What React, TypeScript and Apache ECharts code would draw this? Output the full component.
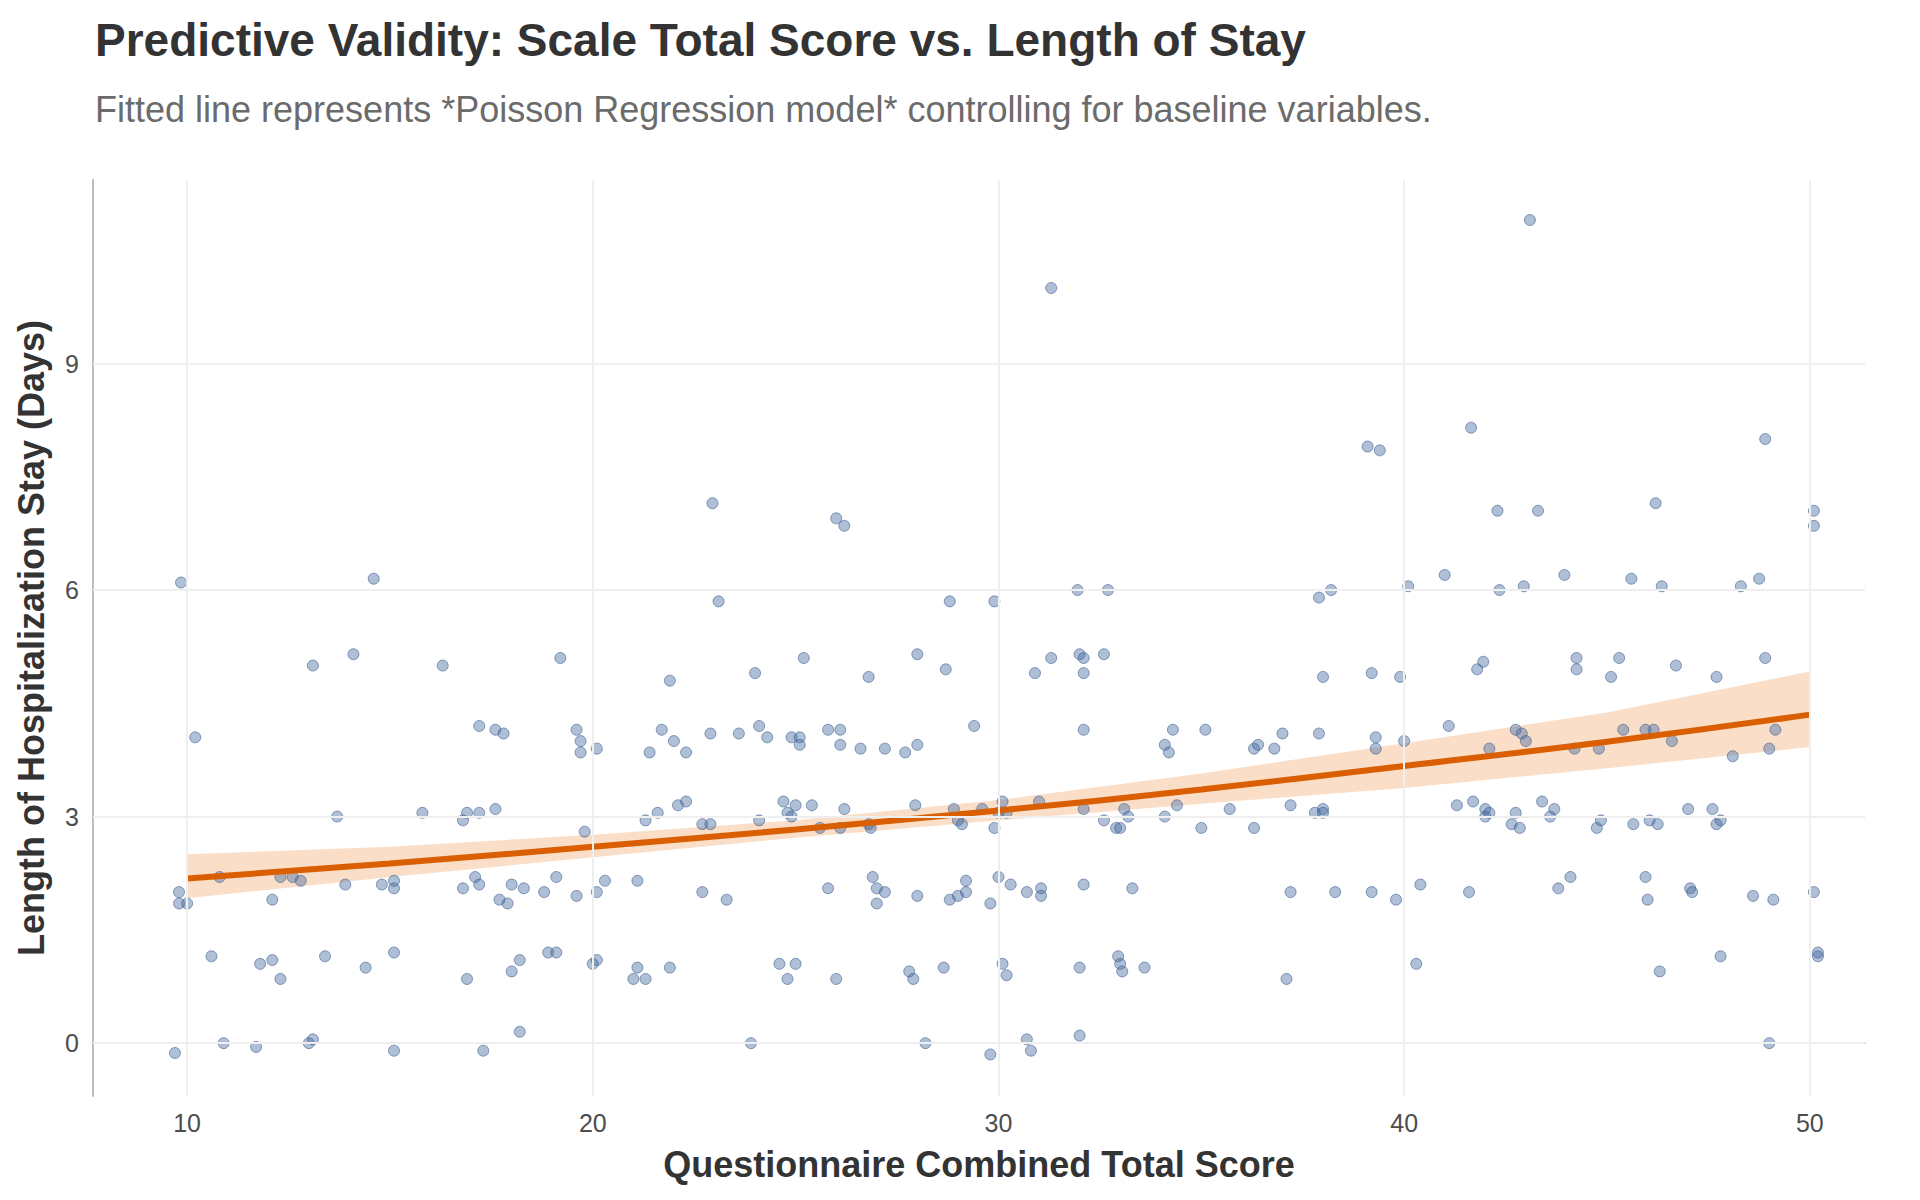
import * as echarts from 'echarts';
import { useEffect, useRef } from 'react';

// observations: [total score, length of stay]
const points: number[][] = [
    [9.7, -0.13], [9.8, 2.0], [9.8, 1.85], [10, 1.85], [9.85, 6.1], [10.2, 4.05], [10.6, 1.15], [10.8, 2.2],
    [10.9, 0], [11.7, -0.05], [11.8, 1.05], [12.1, 1.9], [12.1, 1.1], [12.3, 2.2], [12.3, 0.85], [12.6, 2.2],
    [12.8, 2.15], [13.0, 0], [13.1, 0.05], [13.1, 5.0], [13.4, 1.15], [13.7, 3.0], [13.9, 2.1], [14.1, 5.15],
    [14.4, 1.0], [14.6, 6.15], [14.8, 2.1], [15.1, 2.05], [15.1, 2.15], [15.1, -0.1], [15.1, 1.2], [15.8, 3.05],
    [16.3, 5.0], [16.8, 2.95], [16.9, 3.05], [16.8, 2.05], [16.9, 0.85], [17.1, 2.2], [17.2, 2.1], [17.2, 4.2],
    [17.2, 3.05], [17.3, -0.1], [17.6, 4.15], [17.8, 4.1], [17.6, 3.1], [17.7, 1.9], [17.9, 1.85], [18.0, 2.1],
    [18.0, 0.95], [18.2, 1.1], [18.2, 0.15], [18.3, 2.05], [18.8, 2.0], [18.9, 1.2], [19.1, 1.2], [19.1, 2.2],
    [19.2, 5.1], [19.6, 4.15], [19.7, 4.0], [19.7, 3.85], [19.6, 1.95], [19.8, 2.8], [20.0, 1.05], [20.1, 1.1],
    [20.1, 3.9], [20.1, 2.0], [20.3, 2.15], [21.0, 0.85], [21.1, 1.0], [21.1, 2.15], [21.3, 0.85], [21.3, 2.95],
    [21.4, 3.85], [21.6, 3.05], [21.7, 4.15], [21.9, 4.8], [21.9, 1.0], [22.0, 4.0], [22.1, 3.15], [22.3, 3.2],
    [22.3, 3.85], [22.7, 2.9], [22.9, 2.9], [22.7, 2.0], [22.9, 4.1], [22.95, 7.15], [23.1, 5.85], [23.3, 1.9],
    [23.6, 4.1], [23.9, 0], [24.0, 4.9], [24.1, 4.2], [24.1, 2.95], [24.3, 4.05], [24.6, 1.05], [24.7, 3.2],
    [24.8, 3.05], [24.9, 3.0], [24.8, 0.85], [24.9, 4.05], [25.1, 4.05], [25.1, 3.95], [25.0, 3.15], [25.0, 1.05],
    [25.2, 5.1], [25.4, 3.15], [25.6, 2.85], [25.8, 4.15], [26.1, 4.15], [25.8, 2.05], [26.0, 0.85], [26.0, 6.95],
    [26.2, 6.85], [26.1, 3.95], [26.1, 2.85], [26.2, 3.1], [26.6, 3.9], [26.8, 4.85], [26.8, 2.9], [26.85, 2.85],
    [26.9, 2.2], [27.0, 2.05], [27.2, 2.0], [27.0, 1.85], [27.2, 3.9], [27.7, 3.85], [27.8, 0.95], [27.9, 0.85],
    [28.0, 5.15], [28.0, 3.95], [27.95, 3.15], [28.0, 1.95], [28.2, 0], [28.65, 1.0], [28.7, 4.95], [28.8, 5.85],
    [28.8, 1.9], [29.0, 1.95], [28.9, 3.1], [29.0, 2.95], [29.1, 2.9], [29.2, 2.15], [29.2, 2.0], [29.4, 4.2],
    [29.6, 3.1], [29.8, -0.15], [29.8, 1.85], [29.9, 5.85], [29.9, 2.85], [30.0, 3.05], [30.0, 2.2], [30.1, 1.05],
    [30.2, 0.9], [30.1, 3.2], [30.2, 3.05], [30.3, 2.1], [30.7, 2.0], [30.7, 0.05], [30.8, -0.1], [30.9, 4.9],
    [31.0, 3.2], [31.05, 2.05], [31.05, 1.95], [31.3, 10.0], [31.3, 5.1], [31.95, 6.0], [32.0, 1.0], [32.0, 0.1],
    [32.0, 5.15], [32.1, 5.1], [32.1, 4.15], [32.1, 4.9], [32.1, 3.1], [32.1, 2.1], [32.6, 5.15], [32.7, 6.0],
    [32.6, 2.95], [32.9, 2.85], [33.0, 2.85], [32.95, 1.15], [33.0, 1.05], [33.05, 0.95], [33.1, 3.1], [33.2, 3.0],
    [33.3, 2.05], [33.6, 1.0], [34.1, 3.95], [34.2, 3.85], [34.1, 3.0], [34.3, 4.15], [34.4, 3.15], [35.0, 2.85],
    [35.1, 4.15], [35.7, 3.1], [36.3, 2.85], [36.3, 3.9], [36.4, 3.95], [36.8, 3.9], [37.0, 4.1], [37.1, 0.85],
    [37.2, 2.0], [37.2, 3.15], [37.8, 3.05], [37.9, 5.9], [37.9, 4.1], [38.0, 4.85], [38.0, 3.1], [38.0, 3.05],
    [38.2, 6.0], [38.3, 2.0], [39.1, 7.9], [39.4, 7.85], [39.2, 4.9], [39.2, 2.0], [39.3, 3.9], [39.3, 4.05],
    [39.8, 1.9], [39.9, 4.85], [40.0, 4.0], [40.1, 6.05], [40.3, 1.05], [40.4, 2.1], [41.0, 6.2], [41.1, 4.2],
    [41.3, 3.15], [41.6, 2.0], [41.65, 8.15], [41.7, 3.2], [41.8, 4.95], [41.95, 5.05], [42.0, 3.1], [42.0, 3.0],
    [42.1, 3.05], [42.1, 3.9], [42.3, 7.05], [42.35, 6.0], [42.65, 2.9], [42.75, 4.15], [42.75, 3.05], [42.85, 2.85],
    [42.9, 4.1], [43.0, 4.0], [42.95, 6.05], [43.1, 10.9], [43.3, 7.05], [43.4, 3.2], [43.6, 3.0], [43.7, 3.1],
    [43.8, 2.05], [43.95, 6.2], [44.1, 2.2], [44.2, 3.9], [44.25, 5.1], [44.25, 4.95], [44.75, 2.85], [44.85, 2.95],
    [44.8, 3.9], [45.1, 4.85], [45.3, 5.1], [45.4, 4.15], [45.6, 6.15], [45.65, 2.9], [45.95, 2.2], [45.95, 4.15],
    [46.0, 1.9], [46.05, 2.95], [46.15, 4.15], [46.2, 7.15], [46.25, 2.9], [46.3, 0.95], [46.35, 6.05], [46.6, 4.0],
    [46.7, 5.0], [47.0, 3.1], [47.05, 2.05], [47.1, 2.0], [47.6, 3.1], [47.7, 2.9], [47.8, 2.95], [47.7, 4.85],
    [47.8, 1.15], [48.1, 3.8], [48.3, 6.05], [48.6, 1.95], [48.9, 8.0], [48.75, 6.15], [48.9, 5.1], [49.0, 3.9],
    [49.0, 0], [49.1, 1.9], [49.15, 4.15], [50.1, 7.05], [50.1, 6.85], [50.1, 2.0], [50.2, 1.15], [50.2, 1.2],
];

// fitted Poisson curve and its confidence band
const fitX = [10, 15, 20, 25, 30, 35, 40, 45, 50];
const fitY = [2.18, 2.38, 2.6, 2.83, 3.08, 3.36, 3.67, 3.99, 4.35];
const bandLow = [1.92, 2.2, 2.46, 2.72, 2.95, 3.17, 3.38, 3.64, 3.92];
const bandHigh = [2.5, 2.6, 2.76, 2.95, 3.22, 3.57, 3.97, 4.38, 4.92];

const xTicks = [10, 20, 30, 40, 50];
const yTicks = [0, 3, 6, 9];

export default function App() {
    const chartRef = useRef<HTMLDivElement>(null);

    useEffect(() => {
        document.body.style.margin = '0';
        const chart = echarts.init(chartRef.current, null, { renderer: 'svg' });
        const font = 'Liberation Sans, Arial, sans-serif';
        const gridLine = { color: '#efefef', width: 2, type: 'solid' };

        chart.setOption({
            animation: false,
            textStyle: { fontFamily: font },
            title: {
                text: 'Predictive Validity: Scale Total Score vs. Length of Stay',
                subtext: 'Fitted line represents *Poisson Regression model* controlling for baseline variables.',
                left: 90,
                top: 12,
                itemGap: 28,
                textStyle: { fontSize: 46, fontWeight: 'bold', color: '#333' },
                subtextStyle: { fontSize: 36, color: '#6b6b6b' },
            },
            grid: { left: 93, right: 55, top: 180, bottom: 104 },
            xAxis: {
                type: 'value',
                min: 7.68,
                max: 51.36,
                name: 'Questionnaire Combined Total Score',
                nameLocation: 'middle',
                nameGap: 50,
                nameTextStyle: { fontSize: 36, fontWeight: 'bold', color: '#333' },
                axisLine: { show: true, lineStyle: { color: '#bdbdbd', width: 2 } },
                axisTick: { show: false },
                splitLine: { show: false },
                axisLabel: { customValues: xTicks, fontSize: 25, color: '#4d4d4d', margin: 14 },
            },
            yAxis: {
                type: 'value',
                min: -0.7,
                max: 11.43,
                name: 'Length of Hospitalization Stay (Days)',
                nameLocation: 'middle',
                nameGap: 44,
                nameTextStyle: { fontSize: 36, fontWeight: 'bold', color: '#333' },
                axisLine: { show: true, lineStyle: { color: '#bdbdbd', width: 2 } },
                axisTick: { show: false },
                splitLine: { show: false },
                axisLabel: { customValues: yTicks, fontSize: 25, color: '#4d4d4d', margin: 14 },
            },
            series: [
                {
                    type: 'line',
                    data: [],
                    silent: true,
                    markLine: {
                        symbol: 'none',
                        silent: true,
                        label: { show: false },
                        lineStyle: gridLine,
                        data: [...xTicks.map(v => ({ xAxis: v })), ...yTicks.map(v => ({ yAxis: v }))],
                    },
                },
                {
                    type: 'custom',
                    data: fitX.map((x, i) => [x, bandLow[i], bandHigh[i]]),
                    silent: true,
                    z: 1,
                    renderItem: (params: any, api: any) => {
                        if (params.dataIndex !== 0) return null;
                        const upper = fitX.map((x, i) => api.coord([x, bandHigh[i]]));
                        const lower = fitX.map((x, i) => api.coord([x, bandLow[i]])).reverse();
                        return {
                            type: 'polygon',
                            shape: { points: [...upper, ...lower] },
                            style: { fill: 'rgba(248,211,182,0.75)' },
                        };
                    },
                },
                {
                    type: 'scatter',
                    data: points,
                    symbolSize: 11,
                    itemStyle: { color: 'rgba(70,110,162,0.55)', borderColor: 'rgba(55,90,140,0.7)', borderWidth: 1 },
                    z: 3,
                },
                {
                    type: 'line',
                    data: fitX.map((x, i) => [x, fitY[i]]),
                    symbol: 'none',
                    smooth: true,
                    lineStyle: { color: '#d95f02', width: 6 },
                    z: 4,
                },
            ],
        });

        return () => {
            chart.dispose();
        };
    }, []);

    return <div ref={chartRef} style={{ width: '1920px', height: '1200px' }} />;
}
